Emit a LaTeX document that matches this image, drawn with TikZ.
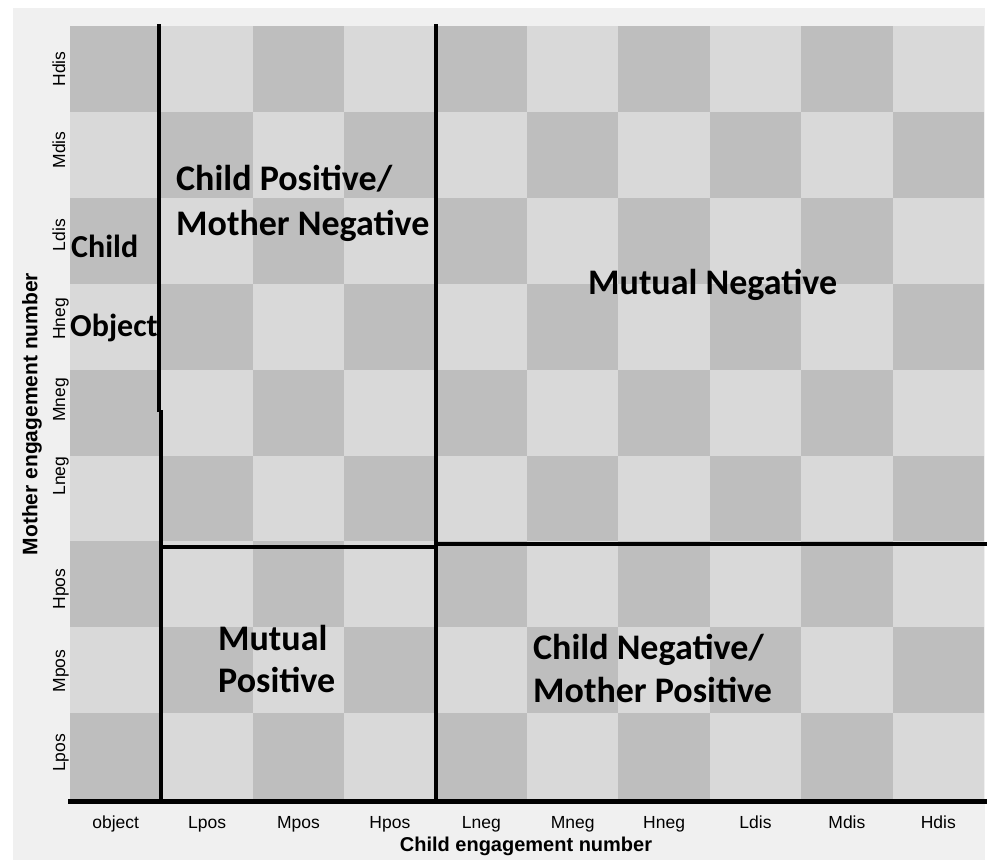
\documentclass[tikz,border=0pt]{standalone}
\usepackage{fontspec}
\setmainfont{Liberation Sans}
\newfontfamily\calfont{Carlito}
\usepackage{tikz}

\definecolor{cellDark}{HTML}{BEBEBE}
\definecolor{cellLight}{HTML}{D9D9D9}
\definecolor{paper}{HTML}{F0F0F0}
\tikzset{
  region/.style={anchor=base west, inner sep=0pt, font=\calfont\bfseries\fontsize{36}{40}\selectfont},
  ticklab/.style={anchor=base, inner sep=0pt, font=\fontsize{17.5}{20}\selectfont},
  axistitle/.style={inner sep=0pt, font=\bfseries\fontsize{20}{24}\selectfont},
  divider/.style={line width=4pt}
}

\begin{document}
\begin{tikzpicture}[x=1pt,y=-1pt]
    \useasboundingbox (0,0) rectangle (989,860);
    \fill[white] (0,0) rectangle (989,860);
    \fill[paper] (13,8) rectangle (985,860);
    % checkerboard, 10 columns by 9 rows
    \foreach \i in {0,...,9}
      \foreach \j in {0,...,8}{
        \pgfmathsetmacro{\xa}{70+91.4*\i}
        \pgfmathsetmacro{\ya}{26+85.9*\j}
        \pgfmathtruncatemacro{\odd}{mod(\i+\j,2)}
        \ifnum\odd=0 \def\cc{cellDark}\else\def\cc{cellLight}\fi
        \fill[\cc] (\xa,\ya) rectangle ++(91.4,85.9);
      }
    % dividing lines
    \draw[divider] (159,24) -- (159,412);
    \draw[divider] (161,410) -- (161,801);
    \draw[divider] (436,24) -- (436,801);
    \draw[divider] (161,547) -- (437,547);
    \draw[divider] (437,544) -- (987,544);
    \draw[line width=5pt] (68,801) -- (987,801);
    % axis labels
    \foreach \lab [count=\k from 0] in {object,Lpos,Mpos,Hpos,Lneg,Mneg,Hneg,Ldis,Mdis,Hdis}
      \node[ticklab] (x-\lab) at ({115.7+91.4*\k},828) {\lab};
    \foreach \lab/\yy in {Hdis/69,Mdis/150,Ldis/235,Hneg/319,Mneg/400,Lneg/476,Hpos/589,Mpos/671,Lpos/753}
      \node[ticklab, rotate=90] (y-\lab) at (65,\yy) {\lab};
    \node[axistitle] (xtitle) at (526,846) {Child engagement number};
    \node[axistitle, font=\bfseries\fontsize{21}{24}\selectfont, rotate=90] (ytitle) at (32,414) {Mother engagement number};
    % quadrant names
    \node[region, font=\calfont\bfseries\fontsize{32}{40}\selectfont] (obj1) at (71,257) {Child};
    \node[region, font=\calfont\bfseries\fontsize{32}{40}\selectfont] (obj2) at (70,336) {Object};
    \node[region] (cpmn1) at (176,190) {Child Positive/};
    \node[region] (cpmn2) at (176,235) {Mother Negative};
    \node[region] (mneg) at (588,294) {Mutual Negative};
    \node[region] (mpos1) at (218,650) {Mutual};
    \node[region] (mpos2) at (218,692) {Positive};
    \node[region] (cnmp1) at (533,659) {Child Negative/};
    \node[region] (cnmp2) at (533,702) {Mother Positive};
\end{tikzpicture}
\end{document}
